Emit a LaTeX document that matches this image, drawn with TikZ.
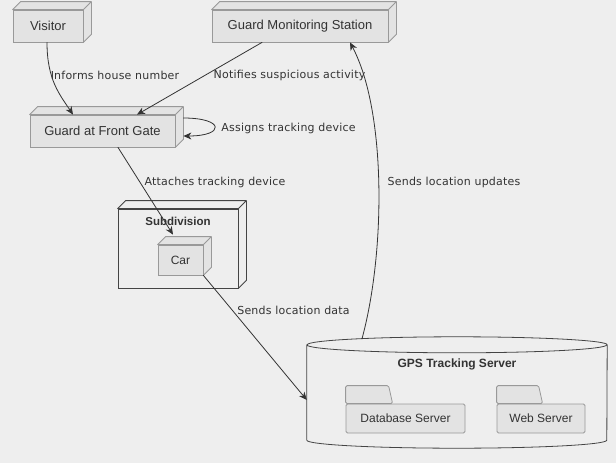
\documentclass[tikz,border=0pt]{standalone}
\usepackage{fontspec}
\setmainfont{Liberation Sans}
\newfontfamily\edgefont[LetterSpace=2]{DejaVu Sans}
\usetikzlibrary{arrows.meta}
\definecolor{paper}{HTML}{EEEEEE}
\definecolor{boxfill}{HTML}{E3E3E3}
\definecolor{boxrim}{HTML}{999999}
\definecolor{darkrim}{HTML}{444444}
\definecolor{ink}{HTML}{333333}
\newcommand{\boxdepth}{8pt}
% top and right faces of a box node: #1 node, #2 fill, #3 rim
\newcommand{\cubeface}[3]{%
  \filldraw[draw=#3, fill=#2, line width=0.8pt, line join=round]
    (#1.north west) -- ++(\boxdepth,\boxdepth)
    -- ([shift={(\boxdepth,\boxdepth)}]#1.north east)
    -- ([shift={(\boxdepth,\boxdepth)}]#1.south east)
    -- (#1.south east) -- (#1.north east) -- cycle
    (#1.north east) -- ++(\boxdepth,\boxdepth);
}
\tikzset{
  cube/.style={draw=boxrim, fill=boxfill, text=ink, line width=0.8pt, minimum height=32pt, inner sep=0pt, font=\fontsize{13}{15}\selectfont},
  frame/.style={draw=darkrim, line width=0.8pt, inner sep=0pt},
  folder/.style={draw=boxrim, fill=boxfill, line width=0.8pt, rounded corners=1.5pt, minimum height=29pt, inner sep=0pt, text=ink, font=\fontsize{12}{14}\selectfont},
  flow/.style={draw=ink, line width=0.8pt, -{Stealth[length=8pt,width=7pt,inset=2.5pt]}},
  edgelabel/.style={text=ink, font=\edgefont\fontsize{11}{13}\selectfont},
  title/.style={text=ink, font=\bfseries\fontsize{12}{14}\selectfont}
}

\begin{document}
\begin{tikzpicture}[x=1pt,y=1pt,line cap=round]
  \fill[paper] (0,0) rectangle (616,-463);
  \useasboundingbox (0,0) rectangle (616,-463);

  % People and stations
  \node[cube, minimum width=70pt] (visitor) at (48,-26) {Visitor};
  \node[cube, minimum width=176pt] (station) at (300,-26) {Guard Monitoring Station};
  \node[cube, minimum width=145pt] (gate) at (102.5,-131) {Guard at Front Gate};
  \node[frame, minimum width=120pt, minimum height=79pt,
        label={[title, font=\bfseries\fontsize{11.5}{13}\selectfont, anchor=north, yshift=-5pt]north:Subdivision}] (subdiv) at (178,-248.5) {};
  \node[cube, minimum width=45pt, minimum height=30pt, font=\fontsize{12}{14}\selectfont] (car) at (180.5,-260) {Car};

  \foreach \n/\f/\r in {visitor/boxfill/boxrim, station/boxfill/boxrim, gate/boxfill/boxrim, subdiv/paper/darkrim, car/boxfill/boxrim} {
    \cubeface{\n}{\f}{\r}
  }

  % Server cylinder
  \node[minimum width=300pt, minimum height=95pt, inner sep=0pt,
        label={[title, anchor=north, yshift=-10pt]north:GPS Tracking Server}] (gps) at (457,-392.5) {};
  \draw[darkrim, line width=0.8pt] (gps.north west) -- (gps.south west)
    arc[start angle=180, end angle=360, x radius=150pt, y radius=8pt] -- (gps.north east)
    arc[start angle=0, end angle=180, x radius=150pt, y radius=8pt]
    (gps.north west) arc[start angle=180, end angle=360, x radius=150pt, y radius=8pt];

  % Folders
  \node[folder, minimum width=119pt] (db) at (405.5,-418.5) {Database Server};
  \node[folder, minimum width=88pt] (web) at (541,-418.5) {Web Server};
  \foreach \n/\w in {db/47, web/46} {
    \filldraw[draw=boxrim, fill=boxfill, line width=0.8pt, rounded corners=1.5pt]
      (\n.north west) -- ++(0,18) -- ++({\w-4},0) -- ([xshift=\w pt]\n.north west) -- cycle;
  }

  % Labels
  \node[edgelabel] (informs) at (115,-75) {Informs house number};
  \node[edgelabel] (notifies) at (289.5,-75) {Notifies suspicious activity};
  \node[edgelabel] (assigns) at (288.5,-128) {Assigns tracking device};
  \node[edgelabel] (attaches) at (215,-182) {Attaches tracking device};
  \node[edgelabel] (sendsdata) at (293.5,-310) {Sends location data};
  \node[edgelabel] (sendsupd) at (454,-182) {Sends location updates};

  % Connectors
  \draw[flow] ([xshift=-1pt]visitor.south) .. controls (47,-80) and (60,-95) .. ([xshift=-29.5pt]gate.north);
  \draw[flow] ([xshift=-38pt]station.south) -- ([xshift=34.5pt]gate.north);
  \draw[flow] ([shift={(8pt,13pt)}]gate.east) .. controls (225,-118) and (225,-136) .. ([shift={(8pt,-5pt)}]gate.east);
  \draw[flow] ([xshift=15.5pt]gate.south) -- ([shift={(-7.5pt,10pt)}]car.north);
  \draw[flow] (car.south east) -- ([yshift=-7.5pt]gps.west);
  \draw[flow] ([shift={(-95pt,6pt)}]gps.north) .. controls (386,-250) and (386,-110) .. ([xshift=50pt]station.south);
\end{tikzpicture}
\end{document}
